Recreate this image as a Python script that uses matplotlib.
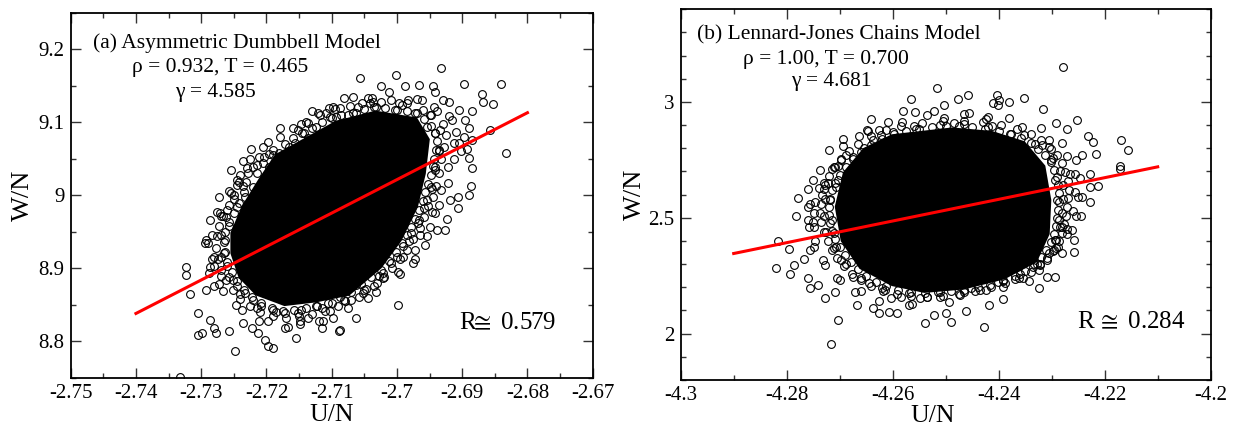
import matplotlib
matplotlib.use("Agg")
import matplotlib.pyplot as plt
from matplotlib.ticker import MultipleLocator

plt.rcParams['font.family'] = ['Liberation Serif', 'DejaVu Serif', 'DejaVu Sans']
plt.rcParams['mathtext.fontset'] = 'stix'

# ---------------- Panel (a): Asymmetric Dumbbell ----------------
a_xlim = (-2.75, -2.67)
a_ylim = (8.75, 9.25)
a_fit_x = [-2.740, -2.680]
a_fit_y = [8.838, 9.113]
# dense core outline (solid black region of overlapping markers)
a_core_x = [-2.7184, -2.7093, -2.7033, -2.6972, -2.6954, -2.6960, -2.6972, -2.6997,
            -2.7027, -2.7075, -2.7124, -2.7172, -2.7214, -2.7239, -2.7251, -2.7251,
            -2.7233, -2.7208]
a_core_y = [9.053, 9.098, 9.112, 9.103, 9.076, 9.030, 8.985, 8.939,
            8.9025, 8.866, 8.857, 8.852, 8.866, 8.889, 8.921, 8.948,
            8.985, 9.021]
# scattered samples around the core
a_x = [-2.6932, -2.7002, -2.7057, -2.7025, -2.6966, -2.6988, -2.6945, -2.6898, -2.6840,
       -2.6870, -2.6868, -2.6853, -2.7081, -2.7045, -2.6969, -2.6941, -2.6930, -2.6920,
       -2.6943, -2.6948, -2.6905, -2.6885, -2.6895, -2.6890, -2.6915, -2.6897, -2.6905,
       -2.6885, -2.6857, -2.6833, -2.6902, -2.6890, -2.6893, -2.6885, -2.6887, -2.6889,
       -2.6906, -2.6907, -2.6918, -2.6924, -2.6927, -2.6939, -2.6942, -2.6954, -2.6957,
       -2.6972, -2.6975, -2.6996, -2.6998, -2.7030, -2.7045, -2.7063, -2.7063, -2.7088,
       -2.7089, -2.7098, -2.7113, -2.7115, -2.7136, -2.7148, -2.7154, -2.7172, -2.7190,
       -2.7197, -2.7202, -2.7213, -2.7222, -2.7236, -2.7248, -2.7258, -2.7278, -2.7287,
       -2.7281, -2.7305, -2.7299, -2.7305, -2.7317, -2.7323, -2.7323, -2.7332, -2.7293,
       -2.7290, -2.7281, -2.7281, -2.7269, -2.7251, -2.7293, -2.7281, -2.7288, -2.7276,
       -2.7269, -2.7260, -2.7254, -2.7245, -2.7242, -2.7230, -2.7220, -2.7211, -2.7205,
       -2.7190, -2.7181, -2.7157, -2.7136, -2.7151, -2.7136, -2.7121, -2.7104, -2.7087,
       -2.7102, -2.7075, -2.7060, -2.7054, -2.7036, -2.7024, -2.7009, -2.6997, -2.6984,
       -2.6960,
       -2.72204, -2.72325, -2.72446, -2.72386, -2.72567, -2.72628, -2.72658, -2.72598,
       -2.72446, -2.72325, -2.72204, -2.72083, -2.71902, -2.71720, -2.71478, -2.71236,
       -2.70994, -2.70812, -2.70510, -2.70268, -2.70086, -2.69905, -2.69784, -2.69663,
       -2.69542, -2.69481, -2.69421, -2.69360, -2.69421, -2.69542, -2.69723, -2.70026,
       -2.70328, -2.70631, -2.70933, -2.71236, -2.71418, -2.71660, -2.71962, -2.72144]
a_y = [9.174, 9.165, 9.161, 9.149, 9.151, 9.149, 9.149, 9.152, 9.152,
       9.1385, 9.128, 9.125, 9.1335, 9.133, 9.132, 9.141, 9.130, 9.128,
       9.121, 9.110, 9.117, 9.115, 9.103, 9.0915, 9.103, 9.080, 9.071,
       9.0755, 9.089, 9.0575, 9.060, 9.0505, 9.063, 9.037, 9.013, 9.000,
       8.997, 8.982, 8.994, 8.967, 8.953, 8.953, 8.9755, 8.9435, 8.932,
       8.9125, 8.907, 8.8925, 8.850, 8.880, 8.859, 8.8775, 8.832, 8.816,
       8.814, 8.832, 8.8275, 8.8185, 8.832, 8.823, 8.8045, 8.818, 8.791,
       8.7932, 8.802, 8.8114, 8.818, 8.825, 8.7863, 8.8137, 8.8114, 8.8296,
       8.818, 8.809, 8.8114, 8.8387, 8.864, 8.901, 8.890, 8.7508, 8.938,
       8.9345, 8.916, 8.9025, 8.889, 8.8843, 8.8706, 8.875, 8.8934, 8.9772,
       8.971, 8.980, 9.0036, 9.021, 9.0187, 9.037, 9.039, 9.053, 9.0437,
       9.055, 9.0574, 9.071, 9.078, 9.0665, 9.0984, 9.113, 9.120, 9.119,
       9.1075, 9.1098, 9.121, 9.1257, 9.128, 9.128, 9.130, 9.1257, 9.1257,
       9.1166,
       9.0118, 8.9982, 8.9845, 8.9663, 8.9572, 8.9390, 8.9207, 8.9025,
       8.8752, 8.8660, 8.8570, 8.8480, 8.8433, 8.8387, 8.8433, 8.8480,
       8.8524, 8.8570, 8.8706, 8.8888, 8.9070, 8.9298, 8.9480, 8.9663,
       8.9936, 9.0118, 9.0392, 9.0620, 9.0847, 9.0939, 9.1121, 9.1166,
       9.1212, 9.1121, 9.1075, 9.0939, 9.0847, 9.0665, 9.0392, 9.0301]
# crowded fringe of samples hugging the core
a_fringe_x = [-2.7228, -2.7215, -2.7203, -2.7190, -2.7172, -2.7160, -2.7145, -2.7130, -2.7115,
              -2.7100, -2.7085, -2.7068, -2.7050, -2.7035, -2.7018, -2.7000, -2.6985, -2.6970,
              -2.6958, -2.6948, -2.6942, -2.6938, -2.6940, -2.6943, -2.6945, -2.6948, -2.6952,
              -2.6957, -2.6960, -2.6966, -2.6972, -2.6978, -2.6985, -2.6993, -2.7002, -2.7012,
              -2.7025, -2.7040, -2.7055, -2.7070, -2.7088, -2.7105, -2.7122, -2.7140, -2.7158,
              -2.7175, -2.7192, -2.7208, -2.7222, -2.7235, -2.7245, -2.7253, -2.7260, -2.7264,
              -2.7265, -2.7263, -2.7258, -2.7250, -2.7242, -2.7235, -2.7232,
              -2.7240, -2.7225, -2.7205, -2.7180, -2.7160, -2.7140, -2.7118, -2.7095, -2.7072,
              -2.6930, -2.6925, -2.6928, -2.6932, -2.6935, -2.6940, -2.6945, -2.6952, -2.6958,
              -2.6965, -2.6975, -2.6985, -2.6995, -2.7008, -2.7020, -2.7035, -2.7052, -2.7070,
              -2.7090, -2.7110, -2.7130, -2.7150, -2.7170, -2.7190, -2.7210, -2.7225, -2.7240,
              -2.7252, -2.7262, -2.7270, -2.7275, -2.7278, -2.7276, -2.7272, -2.7266, -2.7258,
              -2.7250, -2.7245,
              -2.7255, -2.7236, -2.7224, -2.7198, -2.7180, -2.7147, -2.7130, -2.7098, -2.7067,
              -2.7038, -2.7012, -2.6983, -2.6962, -2.6938, -2.6920, -2.6910, -2.6913, -2.6913,
              -2.6922, -2.6922, -2.6933, -2.6935, -2.6947, -2.6950, -2.6965, -2.6972, -2.6991,
              -2.6999, -2.7021, -2.7032, -2.7058, -2.7075, -2.7103, -2.7119, -2.7148, -2.7167,
              -2.7198, -2.7212, -2.7238, -2.7247, -2.7266, -2.7272, -2.7287, -2.7284, -2.7294,
              -2.7284, -2.7287, -2.7271, -2.7272, -2.7258,
              -2.7236, -2.7196, -2.7152, -2.7108, -2.7042, -2.6993, -2.6950, -2.6934, -2.6936,
              -2.6941, -2.6947, -2.6958, -2.6968, -2.6982, -2.7000, -2.7022, -2.7048, -2.7080,
              -2.7115, -2.7152, -2.7185, -2.7215, -2.7240, -2.7258, -2.7270, -2.7270, -2.7262,
              -2.7250]
a_fringe_y = [9.030, 9.042, 9.052, 9.062, 9.070, 9.078, 9.085, 9.092, 9.100,
              9.106, 9.110, 9.113, 9.118, 9.121, 9.120, 9.117, 9.115, 9.112,
              9.104, 9.095, 9.085, 9.074, 9.062, 9.050, 9.040, 9.028, 9.016,
              9.004, 8.992, 8.980, 8.968, 8.957, 8.946, 8.934, 8.922, 8.910,
              8.898, 8.888, 8.878, 8.868, 8.860, 8.853, 8.848, 8.846, 8.843,
              8.842, 8.846, 8.852, 8.860, 8.870, 8.882, 8.895, 8.908, 8.922,
              8.936, 8.950, 8.963, 8.976, 8.990, 9.004, 9.018,
              9.028, 9.050, 9.066, 9.080, 9.092, 9.100, 9.110, 9.118, 9.122,
              9.098, 9.082, 9.066, 9.050, 9.030, 9.012, 8.998, 8.985, 8.970,
              8.955, 8.940, 8.925, 8.912, 8.900, 8.888, 8.876, 8.866, 8.856,
              8.848, 8.842, 8.837, 8.834, 8.832, 8.835, 8.840, 8.848, 8.858,
              8.870, 8.884, 8.898, 8.912, 8.928, 8.944, 8.958, 8.972, 8.986,
              9.000, 9.014,
              9.034, 9.047, 9.063, 9.073, 9.092, 9.097, 9.116, 9.121, 9.134,
              9.133, 9.142, 9.131, 9.131, 9.115, 9.108, 9.086, 9.072, 9.050,
              9.038, 9.017, 9.007, 8.987, 8.977, 8.957, 8.946, 8.925, 8.916,
              8.895, 8.886, 8.867, 8.861, 8.845, 8.841, 8.827, 8.828, 8.819,
              8.827, 8.827, 8.843, 8.849, 8.869, 8.879, 8.901, 8.912, 8.934,
              8.945, 8.966, 8.975, 8.998, 9.006,
              9.012, 9.056, 9.090, 9.113, 9.126, 9.123, 9.110, 9.090, 9.060,
              9.035, 9.008, 8.982, 8.962, 8.937, 8.915, 8.893, 8.872, 8.855,
              8.845, 8.838, 8.840, 8.846, 8.864, 8.888, 8.915, 8.945, 8.970,
              8.995]

# ---------------- Panel (b): Lennard-Jones Chains ----------------
b_xlim = (-4.30, -4.20)
b_ylim = (1.8, 3.4)
b_fit_x = [-4.290, -4.210]
b_fit_y = [2.346, 2.720]
b_core_x = [-4.2600, -4.2488, -4.2414, -4.2354, -4.2317, -4.2306, -4.2309, -4.2332,
            -4.2391, -4.2466, -4.2540, -4.2600, -4.2659, -4.2693, -4.2704, -4.2689,
            -4.2652]
b_core_y = [2.849, 2.878, 2.8635, 2.820, 2.720, 2.576, 2.4325, 2.3175,
            2.2457, 2.2026, 2.188, 2.217, 2.289, 2.4037, 2.5474, 2.691,
            2.7917]
b_x = [-4.2278, -4.2516, -4.2458, -4.2404, -4.2400, -4.2352, -4.2566, -4.2477, -4.2410,
       -4.2380, -4.2402, -4.2317, -4.2503, -4.2580, -4.2557, -4.2522, -4.2466, -4.2641,
       -4.2421, -4.2253, -4.2291, -4.2272, -4.2648, -4.2626, -4.2693, -4.2232, -4.2223,
       -4.2169, -4.2156, -4.2216, -4.2242, -4.2302, -4.2721, -4.2738, -4.2703, -4.2704,
       -4.2750, -4.2760, -4.2730, -4.2779, -4.2756, -4.2749, -4.2782, -4.2760, -4.2749,
       -4.2816, -4.2796, -4.2756, -4.2768, -4.2786, -4.2820, -4.2794, -4.2760, -4.2756,
       -4.2741, -4.2727, -4.2708, -4.2704, -4.2717, -4.2667, -4.2637, -4.2626, -4.2607,
       -4.2592, -4.2570, -4.2540, -4.2522, -4.2500, -4.2490, -4.2462, -4.2428, -4.2419,
       -4.2391, -4.2324, -4.2294, -4.2309, -4.2343, -4.2280, -4.2257, -4.2291, -4.2257,
       -4.2261, -4.2280, -4.2244, -4.2227, -4.2212, -4.2227, -4.2242, -4.2171, -4.2171,
       -4.2227, -4.2265,
       -4.26744, -4.26967, -4.27079, -4.27191, -4.27154, -4.27116, -4.27079, -4.26967,
       -4.26744, -4.26446, -4.26148, -4.25849, -4.25477, -4.25104, -4.24732, -4.24359,
       -4.23912, -4.23539, -4.23241, -4.23092, -4.22943, -4.22869, -4.22906, -4.22943,
       -4.23018, -4.23316, -4.23763, -4.24210, -4.24657, -4.25104, -4.25551, -4.25999,
       -4.26371]
b_y = [3.151, 3.060, 3.0316, 3.0316, 3.010, 3.017, 3.0115, 3.0115, 2.997,
       3.000, 2.9885, 2.971, 2.9856, 2.960, 2.9555, 2.960, 2.950, 2.925,
       2.935, 2.924, 2.911, 2.885, 2.881, 2.878, 2.839, 2.852, 2.8276,
       2.838, 2.7917, 2.777, 2.770, 2.799, 2.7917, 2.7055, 2.724, 2.662,
       2.662, 2.6264, 2.6264, 2.586, 2.5618, 2.519, 2.507, 2.490, 2.461,
       2.4009, 2.3635, 2.3606, 2.3204, 2.296, 2.2816, 2.257, 2.2385, 2.1954,
       2.2098, 2.155, 2.181, 2.0589, 1.954, 2.1236, 2.1092, 2.0876, 2.0948,
       2.0905, 2.1236, 2.0474, 2.0805, 2.0876, 2.0517, 2.099, 2.0273, 2.1236,
       2.149, 2.1954, 2.2457, 2.2457, 2.228, 2.3463, 2.3534, 2.368, 2.4037,
       2.447, 2.461, 2.509, 2.569, 2.6365, 2.6336, 2.5905, 2.7126, 2.724,
       2.691, 2.691,
       2.7629, 2.7486, 2.6336, 2.5761, 2.4899, 2.4325, 2.3750, 2.3175,
       2.2457, 2.2170, 2.1882, 2.1595, 2.1523, 2.1595, 2.1667, 2.1882,
       2.2026, 2.2385, 2.2744, 2.3175, 2.4037, 2.4899, 2.5761, 2.6624,
       2.7486, 2.8204, 2.8635, 2.8922, 2.9066, 2.8994, 2.8851, 2.8707,
       2.8348]
b_fringe_x = [-4.2640, -4.2620, -4.2598, -4.2575, -4.2550, -4.2525, -4.2500, -4.2475, -4.2450,
              -4.2425, -4.2400, -4.2378, -4.2358, -4.2340, -4.2325, -4.2312, -4.2302, -4.2295,
              -4.2290, -4.2288, -4.2286, -4.2287, -4.2288, -4.2290, -4.2292, -4.2296, -4.2302,
              -4.2310, -4.2320, -4.2333, -4.2350, -4.2370, -4.2392, -4.2416, -4.2440, -4.2465,
              -4.2490, -4.2515, -4.2540, -4.2565, -4.2590, -4.2612, -4.2632, -4.2650, -4.2665,
              -4.2678, -4.2690, -4.2700, -4.2708, -4.2714, -4.2718, -4.2720, -4.2720, -4.2718,
              -4.2714, -4.2708, -4.2700, -4.2688, -4.2675, -4.2660,
              -4.2665, -4.2640, -4.2612, -4.2585, -4.2545, -4.2505, -4.2465, -4.2430, -4.2395,
              -4.2365, -4.2340, -4.2320, -4.2305, -4.2290, -4.2280, -4.2274, -4.2270, -4.2268,
              -4.2270, -4.2271, -4.2273, -4.2276, -4.2280, -4.2287, -4.2296, -4.2308, -4.2322,
              -4.2340, -4.2362, -4.2388, -4.2415, -4.2445, -4.2475, -4.2505, -4.2535, -4.2565,
              -4.2592, -4.2618, -4.2640, -4.2660, -4.2677, -4.2692, -4.2705, -4.2715, -4.2723,
              -4.2730, -4.2735, -4.2737, -4.2736, -4.2733, -4.2728, -4.2720, -4.2710, -4.2698,
              -4.2683,
              -4.2694, -4.2664, -4.2646, -4.2608, -4.2582, -4.2536, -4.2504, -4.2456, -4.2424,
              -4.2381, -4.2356, -4.2321, -4.2306, -4.2280, -4.2272, -4.2254, -4.2256, -4.2246,
              -4.2256, -4.2250, -4.2260, -4.2255, -4.2271, -4.2271, -4.2289, -4.2297, -4.2322,
              -4.2336, -4.2369, -4.2391, -4.2424, -4.2466, -4.2493, -4.2536, -4.2564, -4.2604,
              -4.2626, -4.2659, -4.2672, -4.2699, -4.2706, -4.2727, -4.2731, -4.2748, -4.2746,
              -4.2758, -4.2751, -4.2759, -4.2746, -4.2740, -4.2729, -4.2714,
              -4.2655, -4.2622, -4.2560, -4.2485, -4.2412, -4.2352, -4.2318, -4.2298, -4.2285,
              -4.2279, -4.2278, -4.2280, -4.2284, -4.2292, -4.2305, -4.2328, -4.2360, -4.2402,
              -4.2452, -4.2510, -4.2570, -4.2620, -4.2660, -4.2688, -4.2710, -4.2725, -4.2730,
              -4.2728, -4.2722, -4.2708, -4.2688]
b_fringe_y = [2.815, 2.840, 2.862, 2.875, 2.885, 2.892, 2.897, 2.898, 2.893,
              2.885, 2.875, 2.862, 2.845, 2.822, 2.797, 2.770, 2.740, 2.708,
              2.675, 2.640, 2.605, 2.570, 2.535, 2.500, 2.465, 2.430, 2.395,
              2.362, 2.330, 2.300, 2.272, 2.248, 2.228, 2.212, 2.200, 2.190,
              2.183, 2.178, 2.176, 2.180, 2.190, 2.205, 2.225, 2.250, 2.278,
              2.308, 2.340, 2.373, 2.408, 2.443, 2.478, 2.513, 2.548, 2.583,
              2.618, 2.652, 2.686, 2.720, 2.752, 2.785,
              2.820, 2.855, 2.880, 2.897, 2.910, 2.918, 2.920, 2.912, 2.900,
              2.882, 2.862, 2.835, 2.805, 2.770, 2.735, 2.698, 2.660, 2.622,
              2.585, 2.548, 2.510, 2.472, 2.434, 2.398, 2.362, 2.328, 2.296,
              2.266, 2.240, 2.218, 2.200, 2.185, 2.172, 2.163, 2.160, 2.162,
              2.170, 2.185, 2.205, 2.230, 2.258, 2.290, 2.325, 2.362, 2.400,
              2.440, 2.480, 2.520, 2.560, 2.600, 2.640, 2.680, 2.718, 2.755,
              2.790,
              2.810, 2.855, 2.873, 2.912, 2.912, 2.943, 2.931, 2.952, 2.925,
              2.930, 2.893, 2.889, 2.838, 2.825, 2.768, 2.750, 2.690, 2.670,
              2.610, 2.590, 2.530, 2.510, 2.450, 2.430, 2.372, 2.355, 2.300,
              2.288, 2.238, 2.232, 2.190, 2.180, 2.137, 2.160, 2.130, 2.156,
              2.141, 2.182, 2.180, 2.232, 2.240, 2.298, 2.316, 2.376, 2.398,
              2.460, 2.482, 2.545, 2.568, 2.630, 2.652, 2.712,
              2.800, 2.858, 2.895, 2.908, 2.895, 2.858, 2.815, 2.760, 2.700,
              2.640, 2.580, 2.520, 2.460, 2.405, 2.350, 2.300, 2.258, 2.225,
              2.195, 2.178, 2.175, 2.196, 2.240, 2.300, 2.370, 2.440, 2.510,
              2.580, 2.650, 2.720, 2.770]

W, H = 1236, 426
fig = plt.figure(figsize=(W / 100, H / 100), dpi=100)
ax_a = fig.add_axes([70.7 / W, 1 - 377.7 / H, 522 / W, 365 / H])
ax_b = fig.add_axes([680.7 / W, 1 - 380 / H, 530 / W, 370.7 / H])


def style(ax, xmaj, xmin, ymaj, ymin):
    ax.xaxis.set_major_locator(MultipleLocator(xmaj))
    ax.xaxis.set_minor_locator(MultipleLocator(xmin))
    ax.yaxis.set_major_locator(MultipleLocator(ymaj))
    ax.yaxis.set_minor_locator(MultipleLocator(ymin))
    ax.tick_params(which='both', direction='in', top=True, right=True,
                   labelsize=15, width=1.0, color='#333333')
    ax.tick_params(which='major', length=7, pad=4.5)
    ax.tick_params(which='minor', length=3.6)
    for s in ax.spines.values():
        s.set_linewidth(1.3)


def panel(ax, cx, cy, px, py, rx, ry, fx, fy, xlim, ylim):
    ax.fill(cx, cy, color='black', lw=4, ec='black', zorder=1.5)
    ax.plot(rx, ry, 'o', mfc='none', mec='black', ms=5.6, mew=0.8, zorder=2)
    ax.plot(px, py, 'o', mfc='none', mec='black', ms=5.6, mew=0.8, zorder=2)
    ax.plot(fx, fy, color='#ff0000', lw=2.2, zorder=3)
    ax.set_xlim(*xlim)
    ax.set_ylim(*ylim)


panel(ax_a, a_core_x, a_core_y, a_x, a_y, a_fringe_x, a_fringe_y,
      a_fit_x, a_fit_y, a_xlim, a_ylim)
style(ax_a, 0.01, 0.005, 0.1, 0.05)
ax_a.xaxis.set_major_formatter(plt.FuncFormatter(lambda v, p: ('%.2f' % v).rstrip('0')))
ax_a.yaxis.set_major_formatter(plt.FuncFormatter(lambda v, p: ('%.1f' % v).rstrip('0').rstrip('.')))

panel(ax_b, b_core_x, b_core_y, b_x, b_y, b_fringe_x, b_fringe_y,
      b_fit_x, b_fit_y, b_xlim, b_ylim)
style(ax_b, 0.02, 0.01, 0.5, 0.1)
ax_b.xaxis.set_major_formatter(plt.FuncFormatter(lambda v, p: ('%.2f' % v).rstrip('0').rstrip('.')))
ax_b.yaxis.set_major_formatter(plt.FuncFormatter(lambda v, p: ('%.1f' % v).rstrip('0').rstrip('.')))

for ax, lx, ly in [(ax_a, (0.5, -0.071), (-0.070, 0.5)), (ax_b, (0.475, -0.068), (-0.065, 0.5))]:
    ax.set_xlabel('U/N', fontsize=18.5)
    ax.set_ylabel('W/N', fontsize=19)
    ax.xaxis.set_label_coords(*lx)
    ax.yaxis.set_label_coords(*ly)

ax_a.text(0.042, 0.917, '(a) Asymmetric Dumbbell Model', transform=ax_a.transAxes,
          fontsize=15.5, ha='left', va='center')
ax_a.text(0.287, 0.849, 'ρ = 0.932, T = 0.465', transform=ax_a.transAxes,
          fontsize=15.5, ha='center', va='center')
ax_a.text(0.278, 0.780, 'γ = 4.585', transform=ax_a.transAxes,
          fontsize=15.5, ha='center', va='center')
ax_a.text(0.743, 0.150, 'R$\\!\\!\\cong$ 0.579', transform=ax_a.transAxes,
          fontsize=18, ha='left', va='center')

ax_b.text(0.031, 0.931, '(b) Lennard-Jones Chains Model', transform=ax_b.transAxes,
          fontsize=15.5, ha='left', va='center')
ax_b.text(0.274, 0.865, 'ρ = 1.00, T = 0.700', transform=ax_b.transAxes,
          fontsize=15.5, ha='center', va='center')
ax_b.text(0.285, 0.805, 'γ = 4.681', transform=ax_b.transAxes,
          fontsize=15.5, ha='center', va='center')
ax_b.text(0.747, 0.155, 'R $\\!\\cong$ 0.284', transform=ax_b.transAxes,
          fontsize=18, ha='left', va='center')

fig.savefig('out.png', dpi=100)
